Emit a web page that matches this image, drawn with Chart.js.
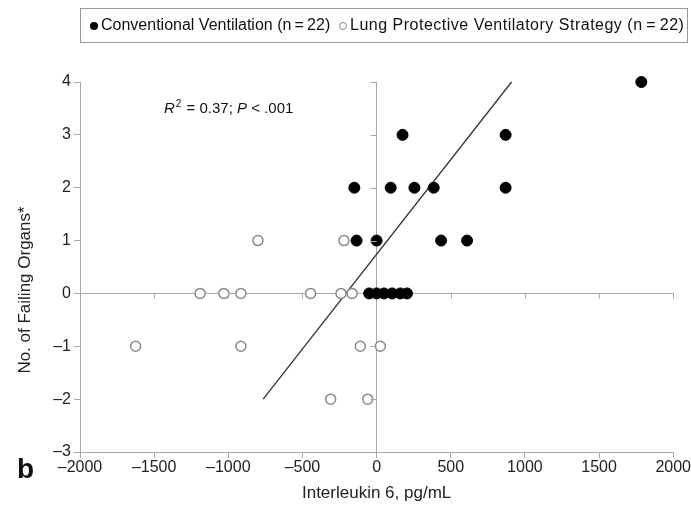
<!DOCTYPE html>
<html>
<head>
<meta charset="utf-8">
<script src="https://cdn.jsdelivr.net/npm/chart.js@4.4.1/dist/chart.umd.min.js"></script>
<style>
  html, body { margin: 0; padding: 0; background: #fff; }
  #wrap { width: 691px; height: 505px; position: relative; }
</style>
</head>
<body>
<div id="wrap"><canvas id="organChart"></canvas></div>
<script>
// Conventional ventilation (filled circles)
const convIL6 = [1785, 175, 870, -150, 95, 255, 385, 870, -135, 0, 435, 610, -50, 0, 50, 105, 160, 205];
const convOrgans = [4, 3, 3, 2, 2, 2, 2, 2, 1, 1, 1, 1, 0, 0, 0, 0, 0, 0];

// Lung protective ventilatory strategy (open circles)
const lpvsIL6 = [-800, -220, -1190, -1030, -915, -445, -240, -165, -1625, -915, -110, 25, -310, -60];
const lpvsOrgans = [1, 1, 0, 0, 0, 0, 0, 0, -1, -1, -1, -1, -2, -2];

// regression line end points
const fitIL6 = [-765, 910];
const fitOrgans = [-2, 4];

const seriesLabels = ['Conventional Ventilation (n\u2009=\u200922)', 'Lung Protective Ventilatory Strategy (n\u2009=\u200922)'];
const xTicks = [-2000, -1500, -1000, -500, 0, 500, 1000, 1500, 2000];
const yTicks = [-3, -2, -1, 0, 1, 2, 3, 4];
const yTitle = 'No. of Failing Organs*';

const FONT = "'Liberation Sans', Arial, Helvetica, sans-serif";
const AXIS_GRAY = '#a8a8a8';

const toPoints = (xs, ys) => xs.map((x, i) => ({ x: x, y: ys[i] }));
const dashMinus = v => String(v).replace('-', '\u2013');

// small ticks along the zero lines, panel letter, R2 text, y title and boxed legend
const extras = {
  id: 'extras',
  afterDatasetsDraw(chart) {
    const ctx = chart.ctx;
    const xs = chart.scales.x, ys = chart.scales.y;
    const x0 = xs.getPixelForValue(0), y0 = ys.getPixelForValue(0);
    ctx.save();
    ctx.strokeStyle = AXIS_GRAY;
    ctx.lineWidth = 1;
    ctx.beginPath();
    xTicks.forEach(v => {
      if (v === 0) return;
      const px = Math.round(xs.getPixelForValue(v)) + 0.5;
      ctx.moveTo(px, y0);
      ctx.lineTo(px, y0 + 5);
    });
    yTicks.forEach(v => {
      if (v === 0) return;
      const py = Math.round(ys.getPixelForValue(v)) + 0.5;
      ctx.moveTo(x0 - 6, py);
      ctx.lineTo(x0, py);
    });
    ctx.stroke();
    ctx.restore();
  },
  afterDraw(chart) {
    const ctx = chart.ctx;
    ctx.save();
    ctx.fillStyle = '#111';
    ctx.textBaseline = 'alphabetic';

    // panel letter
    ctx.font = 'bold 28px ' + FONT;
    ctx.fillText('b', 17, 478);

    // R2 annotation
    let x = 164;
    const base = 113;
    ctx.font = 'italic 15px ' + FONT;
    ctx.fillText('R', x, base); x += ctx.measureText('R').width + 1;
    ctx.font = '10px ' + FONT;
    ctx.fillText('2', x, base - 6); x += ctx.measureText('2').width + 1;
    ctx.font = '15px ' + FONT;
    let t = ' = 0.37; ';
    ctx.fillText(t, x, base); x += ctx.measureText(t).width;
    ctx.font = 'italic 15px ' + FONT;
    ctx.fillText('P', x, base); x += ctx.measureText('P').width;
    ctx.font = '15px ' + FONT;
    ctx.fillText(' < .001', x, base);

    // y axis title
    ctx.save();
    ctx.translate(25, 290);
    ctx.rotate(-Math.PI / 2);
    ctx.font = '17px ' + FONT;
    ctx.fillStyle = '#222';
    ctx.textAlign = 'center';
    ctx.textBaseline = 'middle';
    ctx.fillText(yTitle, 0, 0);
    ctx.restore();

    // legend box
    ctx.strokeStyle = '#999';
    ctx.lineWidth = 1;
    ctx.strokeRect(80.5, 8.5, 607, 34);
    ctx.font = '16px ' + FONT;
    ctx.textBaseline = 'middle';
    const ly = 26;
    ctx.beginPath();
    ctx.arc(94, ly, 4, 0, Math.PI * 2);
    ctx.fillStyle = '#000';
    ctx.fill();
    ctx.fillStyle = '#111';
    ctx.fillText(seriesLabels[0], 101, ly);
    ctx.beginPath();
    ctx.arc(343, ly, 3.5, 0, Math.PI * 2);
    ctx.fillStyle = '#fff';
    ctx.fill();
    ctx.strokeStyle = '#888';
    ctx.stroke();
    ctx.fillStyle = '#111';
    ctx.letterSpacing = '0.5px';
    ctx.fillText(seriesLabels[1], 350, ly);
    ctx.restore();
  }
};

const ctx = document.getElementById('organChart');
new Chart(ctx, {
  type: 'scatter',
  data: {
    datasets: [
      {
        label: seriesLabels[0],
        data: toPoints(convIL6, convOrgans),
        backgroundColor: '#000',
        borderColor: '#000',
        borderWidth: 1,
        pointRadius: 5.5,
        clip: false,
        order: 1
      },
      {
        label: seriesLabels[1],
        data: toPoints(lpvsIL6, lpvsOrgans),
        backgroundColor: '#fff',
        borderColor: '#8a8a8a',
        borderWidth: 1.5,
        pointRadius: 5,
        clip: false,
        order: 2
      },
      {
        type: 'line',
        label: 'fit',
        data: toPoints(fitIL6, fitOrgans),
        borderColor: '#333',
        borderWidth: 1.3,
        pointRadius: 0,
        fill: false,
        clip: false,
        order: 3
      }
    ]
  },
  options: {
    responsive: true,
    maintainAspectRatio: false,
    animation: false,
    layout: { padding: { top: 82, right: 15, bottom: 0, left: 0 } },
    plugins: {
      legend: { display: false },
      tooltip: { enabled: false }
    },
    scales: {
      x: {
        type: 'linear',
        min: -2000,
        max: 2000,
        afterBuildTicks: s => { s.ticks = xTicks.map(v => ({ value: v })); },
        afterFit: s => { s.height = 53; },
        border: { display: true, color: AXIS_GRAY },
        grid: {
          color: c => (c.tick && c.tick.value === 0 ? AXIS_GRAY : 'rgba(0,0,0,0)'),
          tickColor: AXIS_GRAY,
          tickLength: 6
        },
        ticks: {
          color: '#222',
          font: { family: FONT, size: 16 },
          padding: 0,
          maxRotation: 0,
          callback: v => dashMinus(v)
        },
        title: {
          display: true,
          text: 'Interleukin 6, pg/mL',
          color: '#222',
          font: { family: FONT, size: 17 },
          padding: { top: 0, bottom: 1 }
        }
      },
      y: {
        type: 'linear',
        min: -3,
        max: 4,
        afterBuildTicks: s => { s.ticks = yTicks.map(v => ({ value: v })); },
        afterFit: s => { s.width = 80; },
        border: { display: true, color: AXIS_GRAY },
        grid: {
          color: c => (c.tick && c.tick.value === 0 ? AXIS_GRAY : 'rgba(0,0,0,0)'),
          tickColor: AXIS_GRAY,
          tickLength: 6
        },
        ticks: {
          color: '#222',
          font: { family: FONT, size: 16 },
          padding: 3,
          callback: v => dashMinus(v)
        },
        title: { display: false }
      }
    }
  },
  plugins: [extras]
});
</script>
</body>
</html>
